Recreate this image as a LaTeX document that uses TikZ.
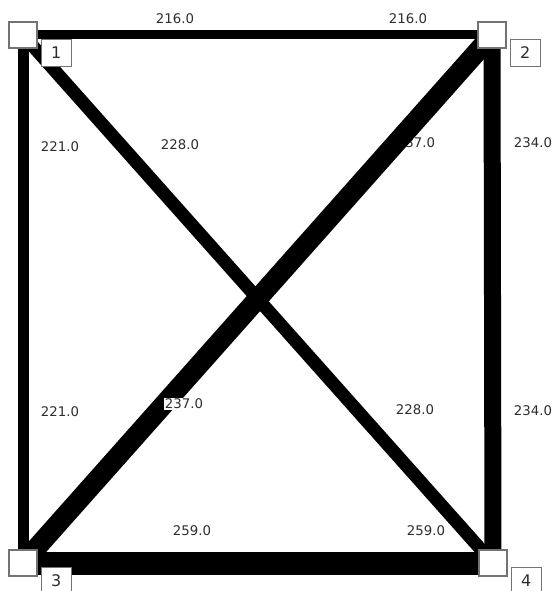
\documentclass[tikz,border=0pt]{standalone}
\usepackage{fontspec}
\setmainfont{DejaVu Sans}
\usetikzlibrary{positioning, backgrounds}
\definecolor{textogris}{HTML}{2E2E2E}
\tikzset{
  vertice/.style={rectangle, draw=gray!90!black, fill=white, line width=1.2pt, minimum width=28pt, minimum height=26pt, inner sep=0pt},
  etiqueta/.style={rectangle, draw=gray!90!black, fill=white, line width=1pt, minimum width=30pt, minimum height=27pt, inner sep=0pt, font=\fontsize{16}{16}\selectfont, text=textogris},
  peso/.style={font=\fontsize{13.3}{14}\selectfont, text=textogris, fill=white, inner sep=1pt},
  arista/.style={line width=#1, black}
}

\begin{document}
\begin{tikzpicture}[x=1pt, y=-1pt]
    \useasboundingbox (0,0) rectangle (553,591);

    % 1. Vertices del grafo
    \node[vertice] (n1) at (23,35) {};
    \node[vertice] (n2) at (492,35) {};
    \node[vertice] (n3) at (23,563) {};
    \node[vertice] (n4) at (493,563) {};

    % Numeros de los vertices (abajo a la derecha de cada caja)
    \foreach \v in {1,...,4} {
        \node[etiqueta, below right=-10pt and 3pt of n\v] (e\v) {\v};
    }

    % 2. Aristas, grosor segun el peso (van al fondo)
    \begin{scope}[on background layer]
        \node[peso, fill=none] (p23a) at (416,143) {237.0}; % queda tapado por la diagonal
        \draw[arista=9pt] (n1.center) -- (n2.center);
        \draw[arista=11pt] (n1.center) -- (n3.center);
        \draw[arista=17pt] (n2.center) -- (n4.center);
        \draw[arista=23pt] (n3.center) -- (n4.center);
        \draw[arista=13pt] (n1.center) -- (n4.center);
        \draw[arista=20pt] (n2.center) -- (n3.center);
    \end{scope}

    % 3. Pesos en los extremos de cada arista
    \foreach \x/\y/\w/\nombre in {
        175/19/216.0/p12a, 408/19/216.0/p12b,
        60/147/221.0/p13a, 60/412/221.0/p13b,
        180/145/228.0/p14a, 415/410/228.0/p14b,
        184/404/237.0/p23b,
        533/143/234.0/p24a, 533/411/234.0/p24b,
        192/531/259.0/p34a, 426/531/259.0/p34b
    } {
        \node[peso] (\nombre) at (\x,\y) {\w};
    }

\end{tikzpicture}
\end{document}
